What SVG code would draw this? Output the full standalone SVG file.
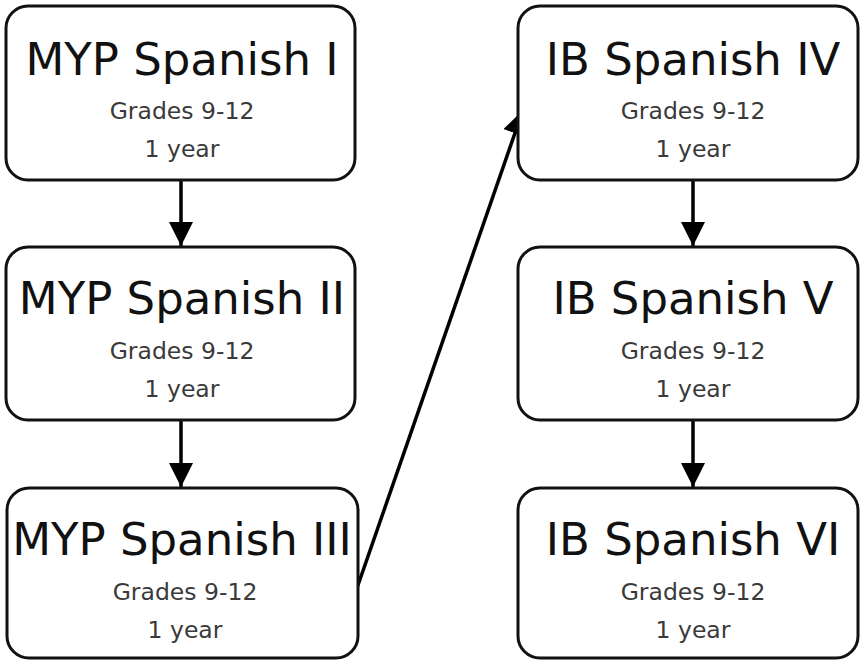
<svg xmlns="http://www.w3.org/2000/svg" width="860" height="660" viewBox="0 0 860 660">
<defs>
<style>
.box{fill:#fff;stroke:#111;stroke-width:3}
.t{font-family:"DejaVu Sans","Liberation Sans",sans-serif;font-size:45px;fill:#111;text-anchor:middle}
.s{font-family:"DejaVu Sans","Liberation Sans",sans-serif;font-size:23.5px;fill:#3a3a3a;text-anchor:middle}
.c{stroke:#000;stroke-width:3.5;fill:none}
</style>
<marker id="ah" viewBox="0 0 10 10" refX="10" refY="5" markerWidth="7" markerHeight="7" markerUnits="strokeWidth" orient="auto">
<path d="M0,0 L10,5 L0,10 Z" fill="#000"/>
</marker>
</defs>
<rect width="860" height="660" fill="#fff"/>
<g id="connectors">
<line class="c" x1="181" y1="180" x2="181" y2="246" marker-end="url(#ah)"/>
<line class="c" x1="181" y1="420" x2="181" y2="487" marker-end="url(#ah)"/>
<line class="c" x1="693" y1="180" x2="693" y2="246" marker-end="url(#ah)"/>
<line class="c" x1="693" y1="420" x2="693" y2="487" marker-end="url(#ah)"/>
<line class="c" x1="357" y1="588" x2="523" y2="110" marker-end="url(#ah)"/>
</g>
<g id="myp1">
<rect class="box" x="6" y="6" width="349" height="174" rx="22"/>
<text class="t" x="182" y="75">MYP Spanish I</text>
<text class="s" x="182" y="119">Grades 9-12</text>
<text class="s" x="182" y="157">1 year</text>
</g>
<g id="myp2">
<rect class="box" x="6" y="247" width="349" height="173" rx="22"/>
<text class="t" x="182" y="314">MYP Spanish II</text>
<text class="s" x="182" y="359">Grades 9-12</text>
<text class="s" x="182" y="397">1 year</text>
</g>
<g id="myp3">
<rect class="box" x="7" y="488" width="351" height="170" rx="22"/>
<text class="t" x="182" y="555">MYP Spanish III</text>
<text class="s" x="185" y="600">Grades 9-12</text>
<text class="s" x="185" y="638">1 year</text>
</g>
<g id="ib4">
<rect class="box" x="518" y="6" width="340" height="174" rx="22"/>
<text class="t" x="693" y="75">IB Spanish IV</text>
<text class="s" x="693" y="119">Grades 9-12</text>
<text class="s" x="693" y="157">1 year</text>
</g>
<g id="ib5">
<rect class="box" x="518" y="247" width="340" height="173" rx="22"/>
<text class="t" x="693" y="314">IB Spanish V</text>
<text class="s" x="693" y="359">Grades 9-12</text>
<text class="s" x="693" y="397">1 year</text>
</g>
<g id="ib6">
<rect class="box" x="518" y="488" width="340" height="170" rx="22"/>
<text class="t" x="693" y="555">IB Spanish VI</text>
<text class="s" x="693" y="600">Grades 9-12</text>
<text class="s" x="693" y="638">1 year</text>
</g>
</svg>
